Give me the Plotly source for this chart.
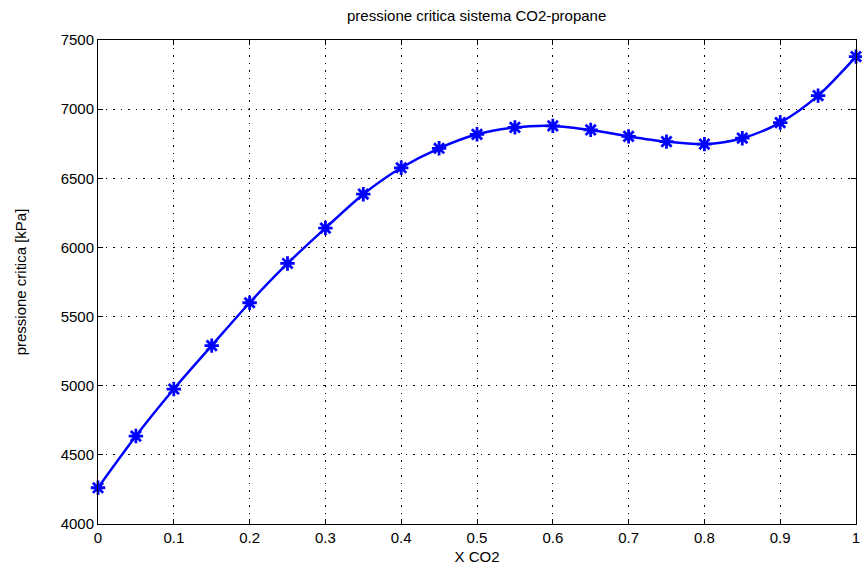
import plotly.graph_objects as go

x_co2 = [0.0, 0.05, 0.1, 0.15, 0.2, 0.25, 0.3, 0.35, 0.4, 0.45, 0.5,
         0.55, 0.6, 0.65, 0.7, 0.75, 0.8, 0.85, 0.9, 0.95, 1.0]
p_crit = [4262, 4636, 4976, 5290, 5600, 5884, 6140, 6385, 6576, 6717, 6818,
          6868, 6879, 6850, 6803, 6765, 6747, 6790, 6903, 7098, 7380]

x_ticks = [0, 0.1, 0.2, 0.3, 0.4, 0.5, 0.6, 0.7, 0.8, 0.9, 1]
x_tick_labels = ["0", "0.1", "0.2", "0.3", "0.4", "0.5", "0.6", "0.7", "0.8", "0.9", "1"]
y_ticks = [4000, 4500, 5000, 5500, 6000, 6500, 7000, 7500]

FONT = "Liberation Sans, Arial, sans-serif"

fig = go.Figure()
fig.add_trace(go.Scatter(
    x=x_co2, y=p_crit, mode="lines+markers",
    line=dict(color="#0000ff", width=2.5, shape="spline", smoothing=0.8),
    marker=dict(symbol="asterisk-open", size=12, color="#0000ff",
                line=dict(color="#0000ff", width=2.8)),
    showlegend=False,
    cliponaxis=False,
))

axis_common = dict(
    showline=True, linecolor="black", linewidth=1, mirror="ticks",
    ticks="inside", ticklen=5, tickcolor="black",
    showgrid=True, gridcolor="black", griddash="1.5px,6px", gridwidth=1,
    zeroline=False, ticklabeloverflow="allow",
    tickfont=dict(family=FONT, size=15, color="black"),
)

fig.update_layout(
    width=862, height=575,
    margin=dict(l=98, r=2, t=40, b=51),
    paper_bgcolor="white", plot_bgcolor="white",
    title=dict(text="pressione critica sistema CO2-propane",
               x=0.553, xanchor="center", y=0.972, yanchor="middle",
               font=dict(family=FONT, size=15, color="black")),
    xaxis=dict(range=[0, 1], tickvals=x_ticks, ticktext=x_tick_labels,
               title=dict(text="X CO2", standoff=6,
                          font=dict(family=FONT, size=15, color="black")),
               **axis_common),
    yaxis=dict(range=[4000, 7500], tickvals=y_ticks,
               title=dict(text="pressione critica [kPa]", standoff=30,
                          font=dict(family=FONT, size=15, color="black")),
               **axis_common),
)

fig.write_html("out.html")
